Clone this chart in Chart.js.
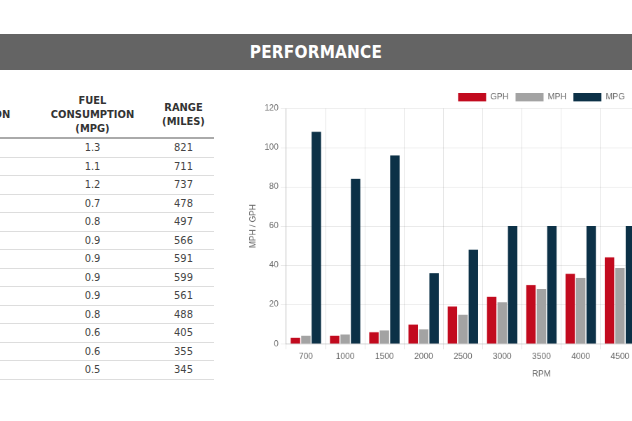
<!DOCTYPE html>
<html>
<head>
<meta charset="utf-8">
<script src="https://cdn.jsdelivr.net/npm/chart.js@4"></script>
<style>
  html, body { margin: 0; padding: 0; background: #fff; }
  body { width: 632px; height: 421px; overflow: hidden; position: relative; font-family: 'DejaVu Sans Condensed', 'DejaVu Sans', sans-serif; }
  .band { position: absolute; left: 0; top: 34px; width: 632px; height: 36px; background: #646464; color: #fff;
          font-weight: bold; font-size: 17px; line-height: 36px; text-align: center; letter-spacing: 0.2px; }
  table { position: absolute; left: -95px; top: 92px; border-collapse: collapse; color: #444; }
  th { font-size: 11px; font-weight: bold; color: #333; line-height: 14px; height: 45px; vertical-align: middle;
       text-align: center; border-bottom: 2px solid #aaa; padding: 0; }
  td { font-size: 11px; height: 17.5px; text-align: center; border-bottom: 1px solid #ddd; padding: 0; }
  .c1 { width: 127px; } .c2 { width: 121px; } .c3 { width: 61px; }
  .chartbox { position: absolute; left: 245px; top: 86px; width: 788px; height: 423px;
              transform: scale(0.7); transform-origin: 0 0; }
</style>
</head>
<body>
<div class="band">PERFORMANCE</div>
<table id="perf">
  <thead>
    <tr><th class="c1">FUEL<br>CONSUMPTION<br>(GPH)</th><th class="c2">FUEL<br>CONSUMPTION<br>(MPG)</th><th class="c3">RANGE<br>(MILES)</th></tr>
  </thead>
  <tbody></tbody>
</table>
<div class="chartbox"><canvas id="perfChart"></canvas></div>
<script>
// Table columns (the GPH column is cut off at the left edge of the reference)
const fuelMpg = ['1.3', '1.1', '1.2', '0.7', '0.8', '0.9', '0.9', '0.9', '0.9', '0.8', '0.6', '0.6', '0.5'];
const rangeMiles = [821, 711, 737, 478, 497, 566, 591, 599, 561, 488, 405, 355, 345];

// Chart data - only 700..4500 are visible, the rest is past the crop
const rpm = ['700', '1000', '1500', '2000', '2500', '3000', '3500', '4000', '4500', '5000', '5500', '6000', '6500'];
const gph = [3, 4.1, 5.9, 9.8, 19, 24, 30, 35.7, 44.1, null, null, null, null];
const mph = [4.1, 4.7, 6.8, 7.4, 14.8, 21.1, 27.9, 33.6, 38.6, null, null, null, null];
const mpg = [108, 84, 96, 36, 48, 60, 60, 60, 60, null, null, null, null];
const yTicks = { min: 0, max: 120, step: 20 };

const tbody = document.querySelector('#perf tbody');
fuelMpg.forEach((v, i) => {
  const tr = document.createElement('tr');
  tr.innerHTML = '<td></td><td>' + v + '</td><td>' + rangeMiles[i] + '</td>';
  tbody.appendChild(tr);
});

Chart.defaults.color = '#666';
Chart.defaults.font.family = "'Liberation Sans', Arial, sans-serif";
Chart.defaults.font.size = 12;

new Chart(document.getElementById('perfChart'), {
  type: 'bar',
  data: {
    labels: rpm,
    datasets: [
      { label: 'GPH', data: gph, backgroundColor: '#c20a1e' },
      { label: 'MPH', data: mph, backgroundColor: '#a3a3a3' },
      { label: 'MPG', data: mpg, backgroundColor: '#0c3147' }
    ]
  },
  options: {
    responsive: true,
    maintainAspectRatio: false,
    animation: false,
    plugins: {
      legend: {
        position: 'top',
        fullSize: false,
        labels: { boxWidth: 40, padding: 10 }
      },
      tooltip: { enabled: false }
    },
    scales: {
      x: {
        grid: { color: 'rgba(0, 0, 0, 0.1)' },
        border: { color: 'rgba(0, 0, 0, 0.2)' },
        title: { display: true, text: 'RPM', padding: { top: 8, bottom: 4 } }
      },
      y: {
        min: yTicks.min,
        max: yTicks.max,
        ticks: { stepSize: yTicks.step },
        grid: { color: 'rgba(0, 0, 0, 0.1)' },
        border: { color: 'rgba(0, 0, 0, 0.2)' },
        title: { display: true, text: 'MPH / GPH', padding: { top: 4, bottom: 6.5 } }
      }
    }
  }
});
</script>
</body>
</html>
